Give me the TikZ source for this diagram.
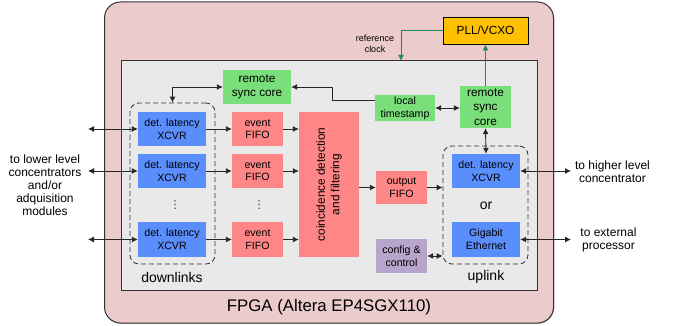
\documentclass[tikz,border=0pt]{standalone}
\usepackage{fontspec}
\setmainfont{Liberation Sans}
\newfontfamily\symfont{DejaVu Sans}
\usetikzlibrary{arrows.meta,shadows}

\definecolor{fpgabg}{HTML}{EBCBCB}
\definecolor{corebg}{HTML}{E9E9E9}
\definecolor{xblue}{HTML}{5B8EFD}
\definecolor{fpink}{HTML}{FF8686}
\definecolor{sgreen}{HTML}{7ADF7A}
\definecolor{cpurple}{HTML}{B7A5CC}
\definecolor{pllorange}{HTML}{FFC000}
\definecolor{clkgreen}{HTML}{1E8C4E}
\definecolor{edge}{HTML}{333333}

\newcommand{\fs}[2]{\fontsize{#1}{#2}\selectfont}

\tikzset{
  blk/.style={inner sep=0pt, align=center, font=\fs{10.6}{12.7}},
  xcvr/.style={blk, fill=xblue, minimum width=68pt, minimum height=34pt},
  fifo/.style={blk, fill=fpink, minimum width=51pt, minimum height=34pt},
  sync/.style={blk, fill=sgreen, font=\fs{11.8}{14.5}},
  grp/.style={draw=edge, dashed, dash pattern=on 5pt off 3pt, line width=0.8pt,
              rounded corners=9pt, inner sep=0pt},
  lbl/.style={align=center, inner sep=0pt, font=\fs{12}{13}},
  vdot/.style={inner sep=0pt, font=\symfont\fs{11}{12}, text=black!80},
  arr/.style={-{Latex[length=6pt,width=6pt]}, line width=0.9pt, draw=black!85},
  darr/.style={{Latex[length=6pt,width=6pt]}-{Latex[length=6pt,width=6pt]},
               line width=0.9pt, draw=black!85},
  garr/.style={-{Latex[length=6pt,width=6pt]}, line width=1pt, draw=clkgreen},
}

\begin{document}
\begin{tikzpicture}[x=1pt,y=-1pt]
\useasboundingbox (0,0) rectangle (678,326);

% FPGA package and core fabric
\node[draw=edge, line width=1pt, fill=fpgabg, rounded corners=16pt,
      minimum width=449pt, minimum height=321pt, inner sep=0pt,
      drop shadow={shadow xshift=0.8pt, shadow yshift=-0.8pt, opacity=0.5}]
      (fpga) at (329,162.5) {};
\node[draw=edge, line width=1pt, fill=corebg, minimum width=416pt,
      minimum height=229pt, inner sep=0pt] (core) at (329,175.5) {};
\node[lbl, font=\fs{16.8}{18}] (fpgalbl) at (329,307) {FPGA (Altera EP4SGX110)};

% clock source
\node[blk, draw=black, line width=0.9pt, fill=pllorange, minimum width=85pt,
      minimum height=27pt, font=\fs{11.8}{14}] (pll) at (485.5,30.5) {PLL/VCXO};
\node[lbl, font=\fs{9}{11}] (reflbl) at (375,43.5) {reference\\clock};
\coordinate (refin) at (401,61);

% downlink side
\node[grp, minimum width=85pt, minimum height=161pt] (dlbox) at (172.5,183.5) {};
\node[xcvr] (x1) at (172,129) {det. latency\\XCVR};
\node[xcvr] (x2) at (172,171) {det. latency\\XCVR};
\node[xcvr] (x3) at (172,239.5) {det. latency\\XCVR};
\node[vdot] (xdots) at (175,205) {⋮};
\node[lbl, font=\fs{14}{16}] (dllbl) at (172,277) {downlinks};

\node[fifo] (f1) at (257.5,129) {event\\FIFO};
\node[fifo] (f2) at (257.5,171) {event\\FIFO};
\node[fifo] (f3) at (257.5,239.5) {event\\FIFO};
\node[vdot] (fdots) at (259,205) {⋮};

\node[blk, fill=fpink, minimum width=60pt, minimum height=145pt] (coin) at (329,184.5) {};
\node[blk, rotate=90, font=\fs{11.8}{14.5}] (cointxt) at (coin.center)
      {coincidence detection\\and filtering};

% synchronisation
\node[sync, minimum width=68pt, minimum height=34pt] (rscL) at (257,87) {remote\\sync core};
\node[sync, minimum width=60pt, minimum height=26pt, font=\fs{10.6}{12.7}] (lts) at (405,108) {local\\timestamp};
\node[sync, minimum width=51pt, minimum height=42pt] (rscR) at (485.5,107) {remote\\sync\\core};

% uplink side
\node[fifo, minimum height=33pt] (ofifo) at (401.5,187.5) {output\\FIFO};
\node[blk, fill=cpurple, minimum width=51pt, minimum height=34pt] (cfg) at (401.5,256) {config \&\\control};
\node[grp, minimum width=85pt, minimum height=118pt] (ulbox) at (485.5,205) {};
\node[xcvr] (ulx) at (486,171) {det. latency\\XCVR};
\node[lbl, font=\fs{14}{16}] (orlbl) at (486,206) {or};
\node[xcvr, minimum height=35pt] (gbe) at (486,239.5) {Gigabit\\Ethernet};
\node[lbl, font=\fs{14}{16}] (ullbl) at (486,277) {uplink};

% external links
\coordinate (l1) at (88,129);
\coordinate (l2) at (88,171);
\coordinate (l3) at (88,239.5);
\coordinate (r1) at (571,171);
\coordinate (r2) at (571,239.5);
\node[lbl] (lowlbl) at (45,185) {to lower level\\concentrators\\and/or\\adquisition\\modules};
\node[lbl] (hilbl) at (612.5,172) {to higher level\\concentrator};
\node[lbl] (extlbl) at (608.5,240) {to external\\processor};

% connectors
\foreach \i in {1,2,3} {
  \draw[darr] (l\i) -- (x\i.west);
  \draw[arr] (x\i.east) -- (f\i.west);
  \draw[arr] (f\i.east) -- (f\i.east -| coin.west);
}
\draw[arr] (coin.east |- ofifo.west) -- (ofifo.west);
\draw[arr] (ofifo.east) -- (ofifo.east -| ulbox.west);
\draw[darr] (cfg.east) -- (cfg.east -| ulbox.west);
\draw[darr] (rscR.south) -- (ulx.north);
\draw[darr] (lts.east) -- (lts.east -| rscR.west);
\draw[darr] (ulx.east) -- (r1);
\draw[darr] (gbe.east) -- (r2);
\draw[darr] (dlbox.north) |- (rscL.west);
\draw[arr] ([yshift=8pt]lts.west) -- ++(-42,0) |- (rscL.east);
\draw[garr] (rscR.north) -- (rscR.north |- pll.south);
\draw[garr] (pll.west) -| (refin);
\end{tikzpicture}
\end{document}
